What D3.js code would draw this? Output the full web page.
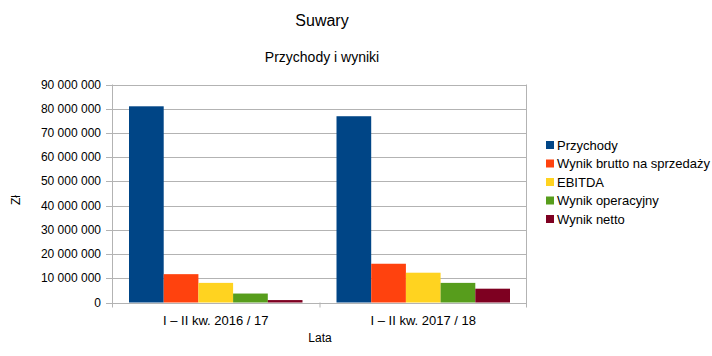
<!DOCTYPE html>
<html><head><meta charset="utf-8">
<script src="https://cdn.jsdelivr.net/npm/d3@7"></script>
<style>body{margin:0;background:#fff}svg{display:block;font-family:"Liberation Sans",Arial,sans-serif}</style>
</head><body><svg id="c" width="712" height="356"></svg>
<script>
const categories = ["I – II kw. 2016 / 17", "I – II kw. 2017 / 18"];
const seriesNames = ["Przychody", "Wynik brutto na sprzedaży", "EBITDA", "Wynik operacyjny", "Wynik netto"];
const przychody = [81000000, 76900000];
const wynikBrutto = [11700000, 16000000];
const ebitda = [8100000, 12300000];
const wynikOperacyjny = [3700000, 8100000];
const wynikNetto = [1000000, 5700000];
const yTicks = [0,10000000,20000000,30000000,40000000,50000000,60000000,70000000,80000000,90000000];
const colors = ["#004586", "#ff420e", "#ffd320", "#579d1c", "#7e0021"];
const seriesValues = [przychody, wynikBrutto, ebitda, wynikOperacyjny, wynikNetto];

const svg = d3.select("#c");
const m = {l:112, r:527, t:84.5, b:302.5};
const x0 = d3.scaleBand().domain(categories).range([m.l, m.r]).paddingInner(0).paddingOuter(0);
const x1 = d3.scaleBand().domain(seriesNames).range([0, x0.bandwidth()]).paddingOuter(0.49).paddingInner(0);
const y = d3.scaleLinear().domain([0, 90000000]).range([m.b, m.t]);
const fmt = v => d3.format(",")(v).replace(/,/g, " ");

svg.append("text").attr("x", 322).attr("y", 26).attr("text-anchor","middle").attr("font-size",16).attr("fill","#000").text("Suwary");
svg.append("text").attr("x", 322).attr("y", 62).attr("text-anchor","middle").attr("font-size",14).attr("fill","#000").text("Przychody i wyniki");

// grid
svg.append("g").selectAll("line").data(yTicks).join("line")
  .attr("x1", m.l-6).attr("x2", m.r).attr("y1", d=>Math.round(y(d))+0.5).attr("y2", d=>Math.round(y(d))+0.5)
  .attr("stroke","#b3b3b3").attr("stroke-width",1);
// y labels
svg.append("g").selectAll("text").data(yTicks).join("text")
  .attr("x", 101).attr("y", d=>y(d)+4).attr("text-anchor","end").attr("font-size",12).attr("fill","#000").text(fmt);
// axis lines
svg.append("line").attr("x1", m.l+0.5).attr("x2", m.l+0.5).attr("y1", m.t).attr("y2", m.b+5).attr("stroke","#b3b3b3");
svg.append("line").attr("x1", m.r-0.5).attr("x2", m.r-0.5).attr("y1", m.t).attr("y2", m.b+5).attr("stroke","#b3b3b3");
svg.append("line").attr("x1", x0(categories[1])+0.5).attr("x2", x0(categories[1])+0.5).attr("y1", m.b).attr("y2", m.b+5).attr("stroke","#b3b3b3");

// bars
categories.forEach((c, ci) => {
  seriesNames.forEach((s, si) => {
    const v = seriesValues[si][ci];
    svg.append("rect").attr("x", x0(c)+x1(s)).attr("width", x1.bandwidth())
      .attr("y", y(v)).attr("height", y(0)-y(v)).attr("fill", colors[si]);
  });
});

// x labels
svg.append("g").selectAll("text").data(categories).join("text")
  .attr("x", d=>x0(d)+x0.bandwidth()/2).attr("y", 325).attr("text-anchor","middle").attr("font-size",13).attr("fill","#000").text(d=>d);
svg.append("text").attr("x", 320).attr("y", 342).attr("text-anchor","middle").attr("font-size",12).attr("fill","#000").text("Lata");
svg.append("text").attr("transform","translate(20,200) rotate(-90)").attr("text-anchor","middle").attr("font-size",12).attr("fill","#000").text("Zł");

// legend
const lg = svg.append("g").selectAll("g").data(seriesNames).join("g").attr("transform",(d,i)=>`translate(546,${145+i*18.5})`);
lg.append("rect").attr("x",0).attr("y",-4).attr("width",8).attr("height",8).attr("fill",(d,i)=>colors[i]);
lg.append("text").attr("x",11).attr("y",4.5).attr("font-size",13).attr("fill","#000").text(d=>d);
</script></body></html>
